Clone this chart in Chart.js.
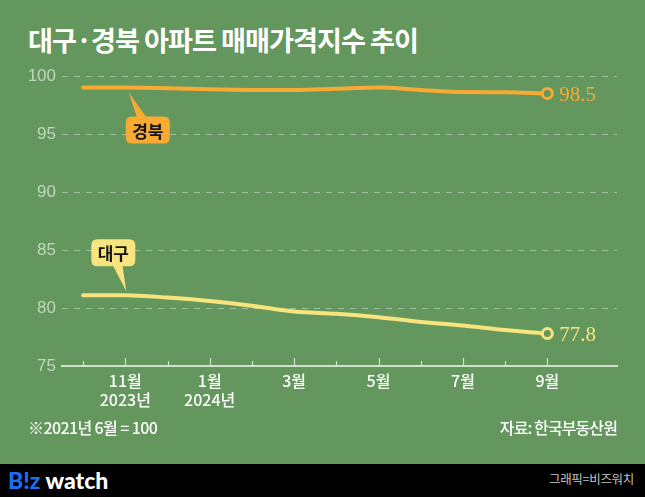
<!DOCTYPE html>
<html><head><meta charset="utf-8">
<script src="https://cdn.jsdelivr.net/npm/chart.js@4"></script>
<style>
html,body{margin:0;padding:0;}
body{width:645px;height:497px;background:#63975d;position:relative;overflow:hidden;font-family:'Noto Sans CJK KR',sans-serif;}
#wrap{position:absolute;left:0;top:0;width:645px;height:464px;}
#title{position:absolute;left:28px;top:26px;font-size:27px;font-weight:700;color:#fff;line-height:1;white-space:nowrap;transform-origin:0 0;letter-spacing:-1px;}
#note{position:absolute;left:28px;top:419px;font-size:16px;font-weight:500;color:#fff;line-height:1;white-space:nowrap;letter-spacing:-0.6px;}
#src{position:absolute;right:28px;top:419px;font-size:16px;font-weight:500;color:#fff;line-height:1;white-space:nowrap;letter-spacing:-0.9px;}
#bar{position:absolute;left:0;top:464px;width:645px;height:33px;background:#000;}
#logo{position:absolute;left:8px;top:5px;font:900 23px 'Lato','Liberation Sans',sans-serif;color:#fff;line-height:1;letter-spacing:0px;white-space:nowrap;}
#logo span{color:#1b6ef3;}
#credit{position:absolute;right:11px;top:9px;font-size:12.5px;color:#c4c4c4;line-height:1;white-space:nowrap;letter-spacing:-0.3px;}
</style></head>
<body>
<div id="title">대구·경북 아파트 매매가격지수 추이</div>
<div id="wrap"><canvas id="c" width="645" height="464"></canvas></div>
<div id="note">※2021년 6월 = 100</div>
<div id="src">자료: 한국부동산원</div>
<div id="bar"><div id="logo"><span>B!z</span> watch</div><div id="credit">그래픽=비즈워치</div></div>
<script>
// ---- data ----
const months = ['10월','11월','12월','1월','2월','3월','4월','5월','6월','7월','8월','9월'];
const years  = ['', '2023년', '', '2024년', '', '', '', '', '', '', '', ''];
const gyeongbuk = [99.0, 99.0, 98.95, 98.85, 98.8, 98.8, 98.9, 99.0, 98.8, 98.62, 98.6, 98.5];
const daegu     = [81.1, 81.1, 80.9, 80.6, 80.2, 79.7, 79.5, 79.2, 78.8, 78.5, 78.1, 77.8];
const yTicks = [75, 80, 85, 90, 95, 100];
const seriesNames = ['경북', '대구'];
const endLabels = ['98.5', '77.8'];

// ---- styles ----
const BG = '#63975d';
const ORANGE = '#f8aa33';
const YELLOW = '#f8e47e';
const AXIS = 'rgba(255,255,255,0.7)';

document.getElementById('title').style.transform =
  'scaleX(' + (390 / document.getElementById('title').getBoundingClientRect().width) + ')';

function toXY(arr){ return arr.map((v,i)=>({x:i, y:v})); }

function roundRect(ctx,x,y,w,h,r){
  ctx.beginPath();
  ctx.moveTo(x+r,y); ctx.lineTo(x+w-r,y); ctx.quadraticCurveTo(x+w,y,x+w,y+r);
  ctx.lineTo(x+w,y+h-r); ctx.quadraticCurveTo(x+w,y+h,x+w-r,y+h);
  ctx.lineTo(x+r,y+h); ctx.quadraticCurveTo(x,y+h,x,y+h-r);
  ctx.lineTo(x,y+r); ctx.quadraticCurveTo(x,y,x+r,y); ctx.closePath();
}

const decor = {
  id: 'decor',
  afterDatasetsDraw(chart){
    const ctx = chart.ctx, xs = chart.scales.x, area = chart.chartArea;
    ctx.save();
    // tick marks (major at labelled months)
    ctx.strokeStyle = AXIS; ctx.lineWidth = 1.2;
    months.forEach((m,i)=>{
      const x = Math.round(xs.getPixelForValue(i)) + 0.5;
      const len = (i % 2 === 1) ? 8 : 5;
      ctx.beginPath(); ctx.moveTo(x, area.bottom); ctx.lineTo(x, area.bottom - len); ctx.stroke();
    });
    // end labels
    chart.data.datasets.forEach((ds,di)=>{
      const meta = chart.getDatasetMeta(di);
      const last = meta.data[meta.data.length-1];
      ctx.fillStyle = ds.borderColor;
      ctx.font = "21px 'Liberation Serif'";
      ctx.textAlign = 'left'; ctx.textBaseline = 'alphabetic';
      ctx.fillText(endLabels[di], last.x + 12, last.y + 7.5);
    });
    // callouts
    const drawCallout = (di, above) => {
      const p = chart.getDatasetMeta(di).data[1];
      const color = chart.data.datasets[di].borderColor;
      const w = 44, h = 27;
      let bx, by, tip, b1, b2;
      if (!above) {
        bx = p.x + 0.5; by = p.y + 29;
        tip = [p.x + 3.5, p.y + 5]; b1 = [p.x + 12, by + 2]; b2 = [p.x + 22, by + 2];
      } else {
        bx = p.x - 34; by = p.y - 56;
        tip = [p.x + 1, p.y - 4]; b1 = [p.x - 13, by + h - 2]; b2 = [p.x - 3, by + h - 2];
      }
      ctx.fillStyle = color;
      ctx.beginPath(); ctx.moveTo(tip[0], tip[1]); ctx.lineTo(b1[0], b1[1]); ctx.lineTo(b2[0], b2[1]); ctx.closePath(); ctx.fill();
      roundRect(ctx, bx, by, w, h, 6); ctx.fill();
      ctx.fillStyle = '#151515';
      ctx.font = "bold 17px 'Noto Sans CJK KR'";
      ctx.textAlign = 'center'; ctx.textBaseline = 'middle';
      ctx.fillText(seriesNames[di], bx + w/2, by + h/2 + 1);
    };
    drawCallout(0, false);
    drawCallout(1, true);
    ctx.restore();
  }
};

new Chart(document.getElementById('c'), {
  type: 'line',
  data: {
    datasets: [
      { label: seriesNames[0], data: toXY(gyeongbuk), borderColor: ORANGE },
      { label: seriesNames[1], data: toXY(daegu), borderColor: YELLOW }
    ].map(d => Object.assign(d, {
      borderWidth: 4, borderCapStyle: 'round', borderJoinStyle: 'round',
      cubicInterpolationMode: 'monotone', fill: false, clip: false,
      pointRadius: c => c.dataIndex === months.length - 1 ? 5 : 0,
      pointHoverRadius: c => c.dataIndex === months.length - 1 ? 5 : 0,
      pointBorderWidth: 3, pointBackgroundColor: BG, pointBorderColor: d.borderColor
    }))
  },
  options: {
    responsive: false, animation: false, devicePixelRatio: 1,
    events: [],
    layout: { padding: { top: 76, right: 28, bottom: 38, left: 0 } },
    plugins: { legend: { display: false }, tooltip: { enabled: false }, title: { display: false } },
    scales: {
      x: {
        type: 'linear', min: -0.5, max: 12.65,
        afterBuildTicks: s => { s.ticks = months.map((m,i)=>({value:i})); },
        afterFit: s => { s.height = 60; },
        grid: { display: false, drawTicks: false },
        border: { display: true, color: AXIS, width: 2 },
        ticks: {
          autoSkip: false, maxRotation: 0, padding: 5, color: '#ffffff',
          font: { family: "'Noto Sans CJK KR'", size: 16, weight: '500', lineHeight: 1.2 },
          callback: v => { const i = Math.round(v); if (i % 2 !== 1) return ''; return years[i] ? [months[i], years[i]] : months[i]; }
        }
      },
      y: {
        min: 75, max: 100,
        afterBuildTicks: s => { s.ticks = yTicks.map(v=>({value:v})); },
        afterFit: s => { s.width = 62; },
        grid: { drawTicks: false, lineWidth: 1, color: c => c.tick && c.tick.value === 75 ? 'rgba(0,0,0,0)' : 'rgba(255,255,255,0.4)' },
        border: { display: false, dash: [6, 6] },
        ticks: { padding: 6, color: 'rgba(255,255,255,0.6)', font: { family: "'Liberation Sans'", size: 17 } }
      }
    }
  },
  plugins: [decor]
});
</script>
</body></html>
